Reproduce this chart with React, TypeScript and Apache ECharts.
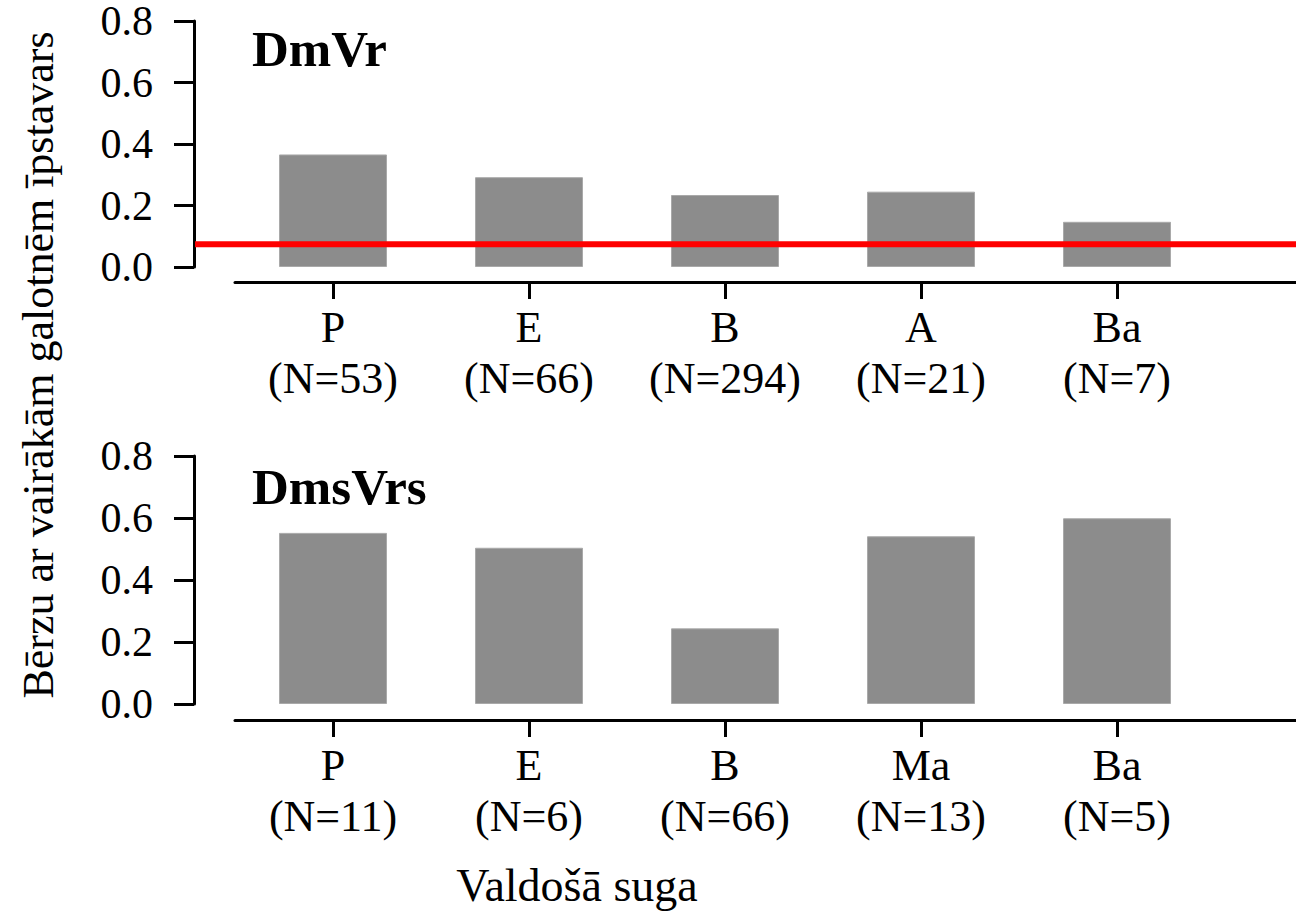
import React, { useEffect, useRef } from "react";
import * as echarts from "echarts";

const topCategories = ["P", "E", "B", "A", "Ba"];
const topN = [53, 66, 294, 21, 7];
const topValues = [0.366, 0.292, 0.234, 0.245, 0.147];
const topReference = 0.074;

const bottomCategories = ["P", "E", "B", "Ma", "Ba"];
const bottomN = [11, 6, 66, 13, 5];
const bottomValues = [0.552, 0.504, 0.244, 0.541, 0.599];

const yTicks = [0, 0.2, 0.4, 0.6, 0.8];

const topTitle = "DmVr";
const bottomTitle = "DmsVrs";
const yTitle = "Bērzu ar vairākām galotnēm īpstavars";
const xTitle = "Valdošā suga";

const FONT = "'Liberation Serif', 'Times New Roman', serif";

export default function App() {
  const ref = useRef<HTMLDivElement>(null);

  useEffect(() => {
    if (!ref.current) return;
    const chart = echarts.init(ref.current, null, { renderer: "svg" });

    const catLabels = (cats: string[], ns: number[]) =>
      cats.map((c, i) => `${c}\n(N=${ns[i]})`);

    const axisLineStyle = { color: "#000", width: 3 };

    const catAxis = (gridIndex: number, data: string[], offset: number) => ({
      type: "category",
      gridIndex,
      data,
      offset,
      axisLine: { show: false, onZero: false },
      axisTick: { show: true, alignWithLabel: true, length: 17, lineStyle: axisLineStyle },
      axisLabel: { color: "#000", fontFamily: FONT, fontSize: 44, margin: 20, lineHeight: 51, interval: 0 },
      splitLine: { show: false },
    });
    const lineAxis = (gridIndex: number, offset: number, showLine: boolean) => ({
      type: "value",
      gridIndex,
      min: 0,
      max: 1,
      offset,
      axisLine: { show: showLine, onZero: false, lineStyle: axisLineStyle },
      axisTick: { show: false },
      axisLabel: { show: false },
      splitLine: { show: false },
    });
    const valAxis = (gridIndex: number, show: boolean) => ({
      type: "value",
      gridIndex,
      min: yTicks[0],
      max: yTicks[yTicks.length - 1],
      interval: 0.2,
      offset: 41,
      show,
      axisLine: { show: true, onZero: false, lineStyle: axisLineStyle },
      axisTick: { show: true, length: 20, lineStyle: axisLineStyle },
      axisLabel: {
        color: "#000",
        fontFamily: FONT,
        fontSize: 42,
        lineHeight: 36,
        margin: 41,
        formatter: (v: number) => v.toFixed(1),
      },
      splitLine: { show: false },
    });

    const barStyle = { color: "#8c8c8c", borderColor: "#a9a9a9", borderWidth: 1 };

    chart.setOption({
      animation: false,
      backgroundColor: "#fff",
      grid: [
        { left: 235, top: 20, width: 980, height: 247 },
        { left: 195, right: 0, top: 20, height: 247 },
        { left: 235, right: 0, top: 20, height: 247 },
        { left: 235, top: 456, width: 980, height: 248 },
        { left: 235, right: 0, top: 456, height: 248 },
      ],
      xAxis: [
        catAxis(0, catLabels(topCategories, topN), 15),
        lineAxis(1, 0, false),
        lineAxis(2, 15, true),
        catAxis(3, catLabels(bottomCategories, bottomN), 16),
        lineAxis(4, 16, true),
      ],
      yAxis: [
        valAxis(0, true),
        valAxis(1, false),
        valAxis(2, false),
        valAxis(3, true),
        valAxis(4, false),
      ],
      series: [
        {
          type: "bar",
          xAxisIndex: 0,
          yAxisIndex: 0,
          data: topValues,
          barWidth: 108,
          itemStyle: barStyle,
        },
        {
          type: "line",
          xAxisIndex: 1,
          yAxisIndex: 1,
          data: [
            [0, topReference],
            [1, topReference],
          ],
          symbol: "none",
          lineStyle: { color: "#ff0000", width: 6 },
          z: 5,
        },
        {
          type: "bar",
          xAxisIndex: 3,
          yAxisIndex: 3,
          data: bottomValues,
          barWidth: 108,
          itemStyle: barStyle,
        },
      ],
      graphic: [
        {
          type: "text",
          x: 252,
          y: 49,
          style: { text: topTitle, fontFamily: FONT, fontSize: 51, fontWeight: "bold", fill: "#000", align: "left", verticalAlign: "middle" },
        },
        {
          type: "text",
          x: 252,
          y: 487,
          style: { text: bottomTitle, fontFamily: FONT, fontSize: 51, fontWeight: "bold", fill: "#000", align: "left", verticalAlign: "middle" },
        },
        {
          type: "text",
          x: 38,
          y: 365,
          rotation: Math.PI / 2,
          style: { text: yTitle, fontFamily: FONT, fontSize: 44, fill: "#000", align: "center", verticalAlign: "middle" },
        },
        {
          type: "text",
          x: 577,
          y: 885,
          style: { text: xTitle, fontFamily: FONT, fontSize: 46, fill: "#000", align: "center", verticalAlign: "middle" },
        },
      ],
    });

    return () => chart.dispose();
  }, []);

  return (
    <div
      ref={ref}
      style={{ position: "fixed", left: 0, top: 0, width: 1296, height: 912, background: "#fff" }}
    />
  );
}
